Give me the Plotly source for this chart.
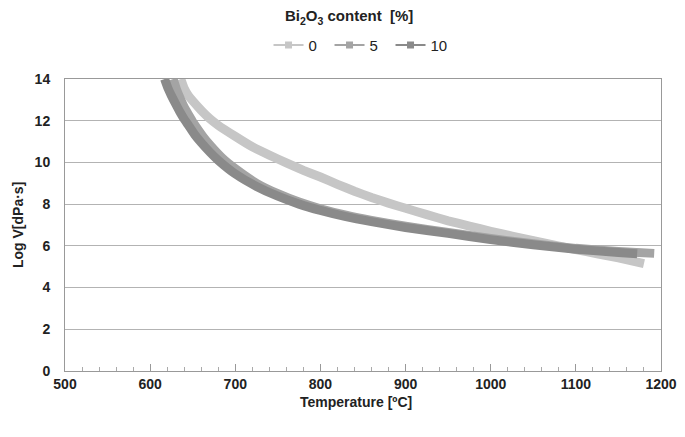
import plotly.graph_objects as go

# Bi2O3 0 %
temp_0 = [636, 640, 645, 650, 660, 670, 680, 700, 720, 740, 760, 780, 800, 820, 840, 860, 880, 900, 925,
          950, 975, 1000, 1025, 1050, 1075, 1100, 1125, 1150, 1180]
logv_0 = [14.0, 13.55, 13.2, 12.95, 12.5, 12.1, 11.78, 11.25, 10.75, 10.35, 9.98, 9.62, 9.3, 8.95, 8.62, 8.32, 8.05, 7.8, 7.5,
          7.2, 6.95, 6.7, 6.47, 6.25, 6.03, 5.82, 5.62, 5.42, 5.15]

# Bi2O3 5 %
temp_5 = [627, 631, 635, 640, 645, 650, 655, 662, 670, 685, 700, 725, 750, 775, 800, 830, 860, 900,
          950, 1000, 1050, 1100, 1150, 1192]
logv_5 = [14.0, 13.5, 13.1, 12.65, 12.3, 11.95, 11.65, 11.25, 10.85, 10.2, 9.7, 9.0, 8.5, 8.1, 7.78, 7.47, 7.22, 6.94,
          6.64, 6.35, 6.1, 5.88, 5.73, 5.64]

# Bi2O3 10 %
temp_10 = [617, 621, 625, 630, 635, 640, 645, 652, 660, 670, 680, 700, 725, 750, 775, 800, 830, 860, 900,
           950, 1000, 1050, 1100, 1150, 1172]
logv_10 = [14.0, 13.55, 13.2, 12.8, 12.42, 12.08, 11.78, 11.35, 10.95, 10.5, 10.1, 9.45, 8.85, 8.38, 8.0, 7.7, 7.4, 7.16, 6.88,
           6.6, 6.3, 6.05, 5.84, 5.68, 5.62]

series = [('0', temp_0, logv_0, '#c6c6c6'),
          ('5', temp_5, logv_5, '#a4a4a4'),
          ('10', temp_10, logv_10, '#8a8a8a')]

FONT = 'Liberation Sans, Arial, sans-serif'

fig = go.Figure()
for name, t, v, col in series:
    # thick band made of dense points
    fig.add_trace(go.Scatter(x=t, y=v, mode='lines', name=name, showlegend=False,
                             line=dict(color=col, width=9, shape='spline', smoothing=0.4)))
    # legend entry: thin line with a square marker
    fig.add_trace(go.Scatter(x=[None], y=[None], mode='lines+markers', name=name,
                             line=dict(color=col, width=2),
                             marker=dict(symbol='square', size=7, color=col)))

# page body has an 8px margin, so the figure is kept inside the window
fig.update_layout(width=669, height=421,
                  margin=dict(l=57, r=16, t=71, b=58, autoexpand=False),
                  paper_bgcolor='white', plot_bgcolor='white',
                  font=dict(family=FONT, color='#222222'),
                  title=dict(text='<b>Bi<sub>2</sub>O<sub>3</sub> content  [%]</b>',
                             x=0.51, xanchor='center', y=0.993, yanchor='top',
                             font=dict(size=15, color='#222222')),
                  legend=dict(orientation='h', x=0.495, xanchor='center', y=1.116, yanchor='middle',
                              font=dict(size=15, color='#222222'), bgcolor='rgba(0,0,0,0)',
                              itemwidth=30, entrywidth=16, tracegroupgap=0),
                  annotations=[dict(text='<b>Temperature [ºC]</b>', xref='paper', yref='paper',
                                    x=0.488, y=-0.106, xanchor='center', yanchor='middle', showarrow=False,
                                    font=dict(size=14, color='#222222')),
                               dict(text='<b>Log V[dPa·s]</b>', xref='paper', yref='paper',
                                    x=-0.0956, y=0.5, xanchor='left', yanchor='middle', showarrow=False,
                                    textangle=-90, font=dict(size=14, color='#222222'))])

fig.update_xaxes(range=[500, 1200], dtick=100, tick0=500, automargin=False,
                 showgrid=False, zeroline=False,
                 showline=True, linecolor='#999999', linewidth=1, mirror=True,
                 ticks='inside', ticklen=7, tickcolor='#999999',
                 minor=dict(dtick=20, ticks='inside', ticklen=4, tickcolor='#aaaaaa', showgrid=False),
                 tickfont=dict(size=14, family=FONT, color='#222222'),
                 tickprefix='<b>', ticksuffix='</b>')

fig.update_yaxes(range=[0, 14], dtick=2, tick0=0, automargin=False,
                 showgrid=True, gridcolor='#b3b3b3', gridwidth=1, zeroline=False,
                 showline=True, linecolor='#999999', linewidth=1, mirror=True,
                 ticks='', ticklabelstandoff=11,
                 tickfont=dict(size=14, family=FONT, color='#222222'),
                 tickprefix='<b>', ticksuffix='</b>')

fig.write_html('out.html')
